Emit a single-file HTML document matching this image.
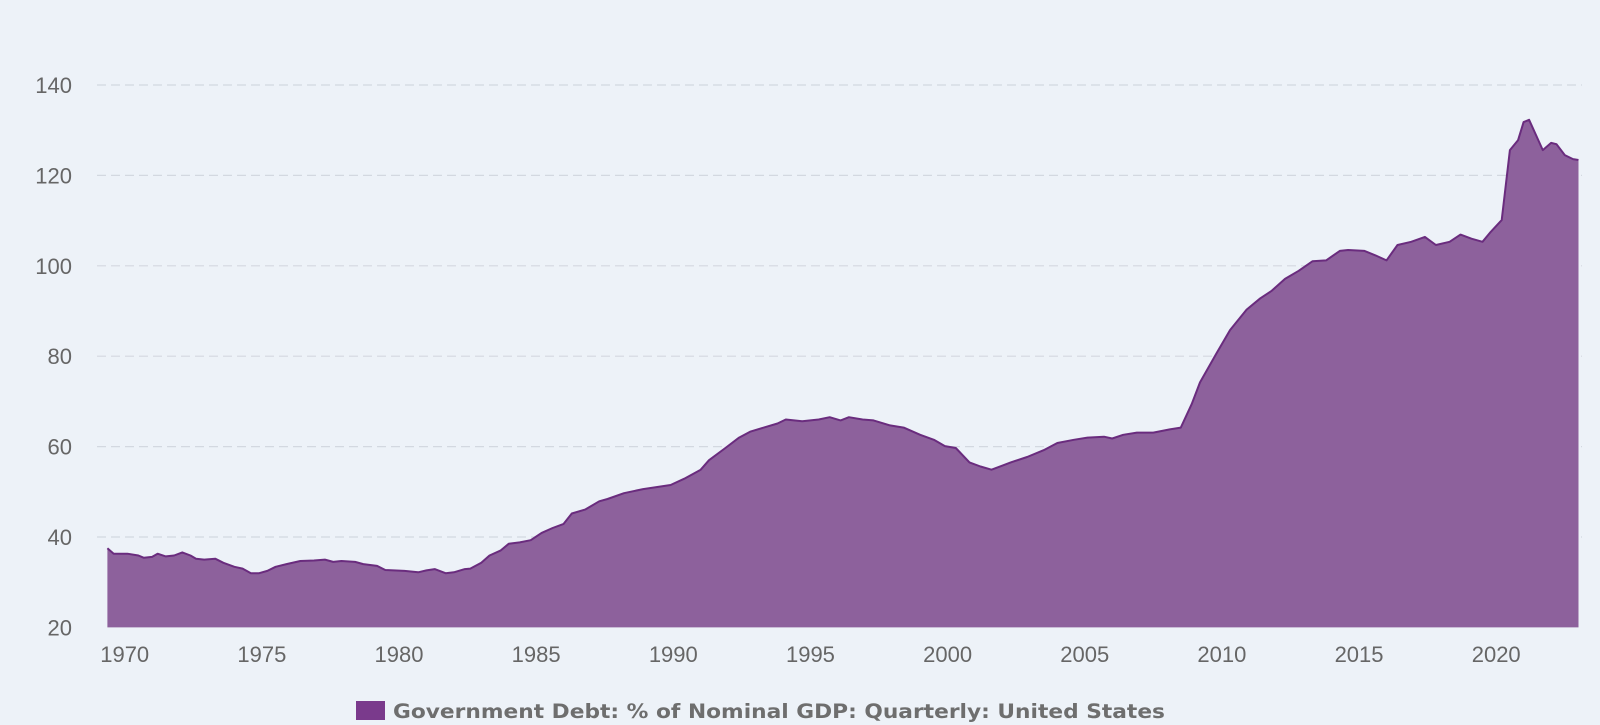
<!DOCTYPE html>
<html><head><meta charset="utf-8">
<style>
html,body{margin:0;padding:0;background:#edf2f8;}
svg{display:block;font-family:"Liberation Sans",sans-serif;}
</style></head>
<body>
<svg id="chart" width="1600" height="725" viewBox="0 0 1600 725">
<rect x="0" y="0" width="1600" height="725" fill="#edf2f8"/>
<g id="grid"></g>
<g id="yticks"></g>
<g id="xticks"></g>
<g id="series"></g>
<g>
<rect x="356" y="701" width="29" height="19" fill="#7a3a8c"/>
<text x="393" y="718" font-size="19.5" font-weight="bold" fill="#6e6e6e" style="font-family:'DejaVu Sans',sans-serif" textLength="772" lengthAdjust="spacingAndGlyphs">Government Debt: % of Nominal GDP: Quarterly: United States</text>
</g>
</svg>
<script>
const years = [1969.37,1969.6,1970.1,1970.5,1970.7,1971.0,1971.2,1971.5,1971.8,1972.1,1972.4,1972.6,1972.9,1973.3,1973.6,1974.0,1974.3,1974.6,1974.9,1975.2,1975.5,1975.9,1976.4,1976.9,1977.3,1977.6,1977.9,1978.4,1978.7,1979.2,1979.5,1980.2,1980.7,1981.0,1981.3,1981.7,1982.0,1982.4,1982.6,1983.0,1983.3,1983.7,1984.0,1984.4,1984.8,1985.2,1985.6,1986.0,1986.3,1986.8,1987.3,1987.6,1988.2,1988.9,1989.9,1990.4,1991.0,1991.3,1991.9,1992.4,1992.8,1993.3,1993.8,1994.1,1994.7,1995.3,1995.7,1996.1,1996.4,1996.9,1997.3,1997.9,1998.4,1999.0,1999.5,1999.9,2000.3,2000.8,2001.2,2001.6,2002.0,2002.3,2002.9,2003.5,2004.0,2004.6,2005.1,2005.7,2006.0,2006.4,2006.9,2007.5,2008.1,2008.5,2008.9,2009.2,2009.8,2010.3,2010.9,2011.4,2011.8,2012.3,2012.8,2013.3,2013.8,2014.3,2014.6,2015.2,2015.6,2016.0,2016.4,2016.9,2017.4,2017.8,2018.3,2018.7,2019.1,2019.5,2019.8,2020.2,2020.5,2020.8,2021.0,2021.2,2021.7,2022.0,2022.2,2022.5,2022.8,2023.0];
const values = [37.5,36.3,36.3,35.9,35.4,35.6,36.3,35.7,35.9,36.6,35.9,35.2,35.0,35.2,34.3,33.4,33.0,32.0,32.0,32.5,33.4,34.0,34.7,34.8,35.0,34.5,34.7,34.5,34.0,33.6,32.7,32.5,32.2,32.6,32.9,32.0,32.2,32.9,33.0,34.3,35.9,37.0,38.5,38.8,39.3,40.9,42.0,42.9,45.2,46.1,47.9,48.4,49.7,50.6,51.5,52.9,54.9,57.0,59.7,62.0,63.3,64.2,65.1,66.0,65.6,66.0,66.5,65.8,66.5,66.0,65.8,64.7,64.2,62.6,61.5,60.1,59.7,56.5,55.6,54.9,55.8,56.5,57.7,59.2,60.8,61.5,62.0,62.2,61.8,62.6,63.1,63.1,63.8,64.2,69.4,74.2,80.6,85.8,90.3,92.8,94.4,97.1,98.9,101.0,101.2,103.3,103.5,103.3,102.3,101.2,104.6,105.3,106.4,104.6,105.3,106.9,106.0,105.3,107.5,110.1,125.6,127.8,131.8,132.3,125.6,127.2,126.9,124.5,123.6,123.4];
const yTicks = [20,40,60,80,100,120,140];
const xTicks = [1970,1975,1980,1985,1990,1995,2000,2005,2010,2015,2020];

const NS="http://www.w3.org/2000/svg";
const xs = y => 124.7 + (y-1970)*27.43;
const ys = v => 85 + (140-v)*4.52;
function mk(tag, attrs, parent){const e=document.createElementNS(NS,tag);for(const k in attrs)e.setAttribute(k,attrs[k]);parent.appendChild(e);return e;}
const grid=document.getElementById('grid'), yg=document.getElementById('yticks'), xg=document.getElementById('xticks'), sg=document.getElementById('series');
yTicks.forEach(t=>{
  if(t>20){
    const l=mk('line',{x1:97,x2:1582,y1:ys(t),y2:ys(t),stroke:'#d3d8e0','stroke-width':1.2,'stroke-dasharray':'9 5'},grid);
    
    
  }
  const tx=mk('text',{x:72,y:ys(t)+8,'text-anchor':'end','font-size':22,fill:'#666'},yg);
  tx.textContent=t;
  
  
});
xTicks.forEach(t=>{
  const tx=mk('text',{x:xs(t),y:662,'text-anchor':'middle','font-size':22,fill:'#666'},xg);
  tx.textContent=t;
  
  
});
let line='';
years.forEach((y,i)=>{line+=(i?'L':'M')+xs(y).toFixed(1)+','+ys(values[i]).toFixed(1);});
const base=ys(20);
const area=mk('path',{d:line+'L'+xs(years[years.length-1]).toFixed(1)+','+base+'L'+xs(years[0]).toFixed(1)+','+base+'Z',fill:'#8d619c'},sg);


const pl=mk('path',{d:line,fill:'none',stroke:'#6a2c7e','stroke-width':2,'stroke-linejoin':'round'},sg);


</script>
</body></html>
